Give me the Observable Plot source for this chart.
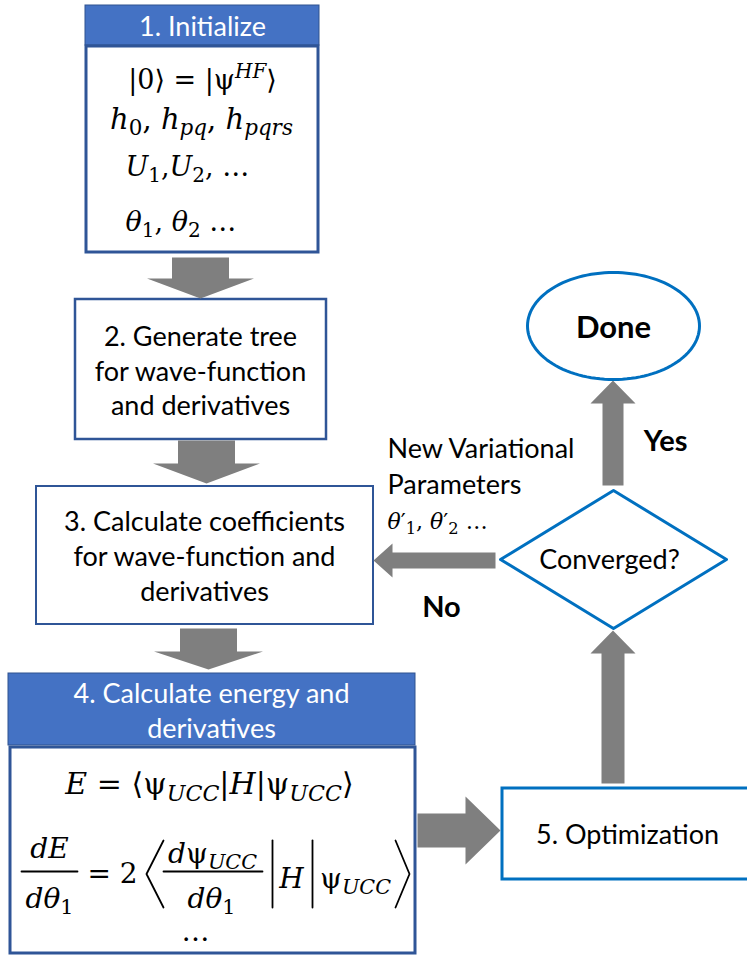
<!DOCTYPE html>
<html>
<head>
<meta charset="utf-8">
<script src="https://cdn.jsdelivr.net/npm/d3@7"></script>
<script src="https://cdn.jsdelivr.net/npm/@observablehq/plot@0.6"></script>
<style>
  html, body { margin: 0; padding: 0; background: white; }
</style>
</head>
<body>
<div id="chart"></div>
<script>
// ---------- content ----------
const stepTitles = [
  ["1. Initialize"],
  ["2. Generate tree", "for wave-function", "and derivatives"],
  ["3. Calculate coefficients", "for wave-function and", "derivatives"],
  ["4. Calculate energy and", "derivatives"],
  ["5. Optimization"]
];
const initItems = ["|0⟩ = |ψ^{HF}⟩", "h_{0}, h_{pq}, h_{pqrs}", "U_{1},U_{2}, …", "θ_{1}, θ_{2} …"];
const energyItems = ["E = ⟨ψ_{UCC}|H|ψ_{UCC}⟩", "dE", "dθ_{1}", "= 2", "dψ_{UCC}", "dθ_{1}", "H", "ψ_{UCC}", "…"];
const decisionLabel = "Converged?";
const endLabel = "Done";
const branchLabels = ["Yes", "No"];
const feedbackLines = ["New Variational", "Parameters"];
const feedbackMath = "θ′_{1}, θ′_{2} …";

// ---------- layout (diagram geometry) ----------
const HEAD = "#4472C4", DARK = "#2F5597", BRIGHT = "#0070C0", GREY = "#7F7F7F";
const MATHFONT = "DejaVu Serif";
const boxLayout = [
  {x1: 85, x2: 319, y1: 5, y2: 45, fill: HEAD, stroke: "#2F528F", sw: 1},
  {x1: 86, x2: 318, y1: 46, y2: 252, fill: "white", stroke: DARK, sw: 3},
  {x1: 75, x2: 326, y1: 299, y2: 439, fill: "white", stroke: DARK, sw: 2.5},
  {x1: 36, x2: 373, y1: 486, y2: 624, fill: "white", stroke: DARK, sw: 2},
  {x1: 8, x2: 415, y1: 673, y2: 745, fill: HEAD, stroke: "#2F528F", sw: 1},
  {x1: 10, x2: 415, y1: 747, y2: 953, fill: "white", stroke: DARK, sw: 3},
  {x1: 502, x2: 752, y1: 788, y2: 879, fill: "white", stroke: BRIGHT, sw: 3}
];
const arrowLayout = [
  {from: [200, 257], to: [200, 298], shaft: 57, head: 107, headLen: 20},
  {from: [206, 440], to: [206, 483], shaft: 57, head: 107, headLen: 20},
  {from: [208, 628], to: [208, 669], shaft: 57, head: 109, headLen: 18},
  {from: [417, 830], to: [500, 830], shaft: 34, head: 68, headLen: 35},
  {from: [612.5, 783], to: [612.5, 630], shaft: 23, head: 45, headLen: 23},
  {from: [612.5, 485], to: [612.5, 380], shaft: 21, head: 45, headLen: 23},
  {from: [495, 560], to: [373, 560], shaft: 16, head: 34, headLen: 19}
];
const diamondLayout = {cx: 613, cy: 559, rx: 113, ry: 69};
const ellipseLayout = {cx: 613, cy: 325.5, rx: 86, ry: 53.5};

const sansText = [
  {t: stepTitles[0][0], x: 202, y: 35, fill: "white"},
  {t: stepTitles[1][0], x: 200, y: 345}, {t: stepTitles[1][1], x: 200, y: 380}, {t: stepTitles[1][2], x: 200, y: 414},
  {t: stepTitles[2][0], x: 204, y: 530}, {t: stepTitles[2][1], x: 204, y: 565}, {t: stepTitles[2][2], x: 204, y: 600},
  {t: stepTitles[3][0], x: 211, y: 702, fill: "white"}, {t: stepTitles[3][1], x: 211, y: 737, fill: "white"},
  {t: stepTitles[4][0], x: 627, y: 843},
  {t: decisionLabel, x: 609, y: 568},
  {t: feedbackLines[0], x: 387, y: 457, anchor: "start"},
  {t: feedbackLines[1], x: 387, y: 493, anchor: "start"}
];
const boldText = [
  {t: endLabel, x: 613, y: 337, size: 31},
  {t: branchLabels[0], x: 665, y: 450, size: 29},
  {t: branchLabels[1], x: 441, y: 616, size: 29}
];
const mathText = [
  {t: initItems[0], x: 202, y: 88, anchor: "middle", size: 27},
  {t: initItems[1], x: 201, y: 128, anchor: "middle", size: 29},
  {t: initItems[2], x: 125, y: 175, anchor: "start", size: 27},
  {t: initItems[3], x: 125, y: 230, anchor: "start", size: 27},
  {t: feedbackMath, x: 387, y: 528, anchor: "start", size: 22},
  {t: energyItems[0], x: 209, y: 793, anchor: "middle", size: 30},
  {t: energyItems[1], x: 49, y: 857, anchor: "middle", size: 28},
  {t: energyItems[2], x: 49, y: 907, anchor: "middle", size: 28},
  {t: energyItems[3], x: 112, y: 882, anchor: "middle", size: 28},
  {t: energyItems[4], x: 212, y: 862, anchor: "middle", size: 28},
  {t: energyItems[5], x: 211, y: 907, anchor: "middle", size: 28},
  {t: energyItems[6], x: 291, y: 887, anchor: "middle", size: 28},
  {t: energyItems[7], x: 355, y: 887, anchor: "middle", size: 28},
  {t: energyItems[8], x: 195, y: 940, anchor: "middle", size: 28}
];
const mathStrokes = [
  [[21, 871], [77, 871]],
  [[163, 871], [262, 871]],
  [[163, 840], [146, 873.5], [163, 907]],
  [[272, 840], [272, 907]],
  [[312, 840], [312, 907]],
  [[395, 840], [409, 873.5], [395, 907]]
];

// ---------- derived geometry ----------
function arrowPolygon(a, i) {
  const [x0, y0] = a.from, [x1, y1] = a.to;
  const L = Math.hypot(x1 - x0, y1 - y0);
  const dx = (x1 - x0) / L, dy = (y1 - y0) / L, nx = -dy, ny = dx;
  const kx = x1 - dx * a.headLen, ky = y1 - dy * a.headLen;
  const s = a.shaft / 2, h = a.head / 2;
  return [
    [x0 + nx * s, y0 + ny * s], [kx + nx * s, ky + ny * s], [kx + nx * h, ky + ny * h],
    [x1, y1],
    [kx - nx * h, ky - ny * h], [kx - nx * s, ky - ny * s], [x0 - nx * s, y0 - ny * s]
  ].map(([x, y]) => ({id: i, x, y}));
}
const arrowPts = arrowLayout.flatMap(arrowPolygon);
const d = diamondLayout;
const diamondPts = [[d.cx, d.cy - d.ry], [d.cx + d.rx, d.cy], [d.cx, d.cy + d.ry], [d.cx - d.rx, d.cy]].map(([x, y]) => ({x, y}));
const e = ellipseLayout;
const ellipsePts = d3.range(120).map(k => {
  const a = (k / 120) * 2 * Math.PI;
  return {x: e.cx + e.rx * Math.cos(a), y: e.cy + e.ry * Math.sin(a)};
});
const strokePts = mathStrokes.flatMap((s, i) => s.map(([x, y]) => ({id: i, x, y})));
const mathSizes = Array.from(new Set(mathText.map(m => m.size)));
const boldSizes = Array.from(new Set(boldText.map(m => m.size)));

const chart = Plot.plot({
  width: 747, height: 955, margin: 0,
  x: {domain: [0, 747], range: [0, 747], axis: null},
  y: {domain: [0, 955], range: [0, 955], axis: null},
  style: {background: "white", fontFamily: "Lato", overflow: "hidden"},
  marks: [
    ...boxLayout.map(b => Plot.rect([b], {x1: "x1", x2: "x2", y1: "y1", y2: "y2", fill: b.fill, stroke: b.stroke, strokeWidth: b.sw})),
    Plot.line(arrowPts, {x: "x", y: "y", z: "id", fill: GREY, stroke: "none", curve: "linear-closed"}),
    Plot.line(diamondPts, {x: "x", y: "y", fill: "white", stroke: BRIGHT, strokeWidth: 3, curve: "linear-closed"}),
    Plot.line(ellipsePts, {x: "x", y: "y", fill: "white", stroke: BRIGHT, strokeWidth: 3, curve: "linear-closed"}),
    Plot.text(sansText, {x: "x", y: "y", text: "t", fill: t => t.fill || "black", textAnchor: "middle", lineAnchor: "bottom", fontSize: 27, fontFamily: "Lato"}),
    ...boldSizes.map(sz => Plot.text(boldText.filter(m => m.size === sz), {x: "x", y: "y", text: "t", fill: "black", lineAnchor: "bottom", fontSize: sz, fontWeight: "bold", fontFamily: "Lato"})),
    ...mathSizes.map(sz => Plot.text(mathText.filter(m => m.size === sz), {x: "x", y: "y", text: "t", fill: "black", textAnchor: "middle", lineAnchor: "bottom", fontSize: sz, fontFamily: MATHFONT})),
    Plot.line(strokePts, {x: "x", y: "y", z: "id", stroke: "black", strokeWidth: 1.8})
  ]
});
document.getElementById("chart").appendChild(chart);

const svg = d3.select(chart);
svg.selectAll(`g[font-family="${MATHFONT}"]`).each(function () {
  const fs = parseFloat(this.getAttribute("font-size"));
  d3.select(this).selectAll("text").each(function () {
    const src = this.textContent;
    const item = mathText.find(m => m.t === src && m.size === fs);
    if (item && item.anchor === "start") this.setAttribute("text-anchor", "start");
    renderMath(this, fs);
  });
});
svg.selectAll('g[font-family="Lato"] text').each(function () {
  const item = sansText.find(m => m.t === this.textContent);
  if (item && item.anchor === "start") this.setAttribute("text-anchor", "start");
});

function renderMath(el, fs) {
  const src = el.textContent;
  const segs = [];
  let i = 0, buf = "";
  while (i < src.length) {
    const c = src[i];
    if (c === "_" || c === "^") {
      if (buf) segs.push({t: buf, m: 0});
      buf = "";
      let arg;
      if (src[i + 1] === "{") { const j = src.indexOf("}", i + 2); arg = src.slice(i + 2, j); i = j + 1; }
      else { arg = src[i + 1]; i += 2; }
      segs.push({t: arg, m: c === "_" ? 1 : -1});
    } else { buf += c; i++; }
  }
  if (buf) segs.push({t: buf, m: 0});
  el.textContent = "";
  let cur = 0;
  for (const s of segs) {
    const runs = s.t.match(/[A-Za-zθ]+|[^A-Za-zθ]+/g) || [];
    const off = s.m === 1 ? 0.24 * fs : s.m === -1 ? -0.4 * fs : 0;
    for (const r of runs) {
      const ts = document.createElementNS("http://www.w3.org/2000/svg", "tspan");
      ts.textContent = r;
      if (off !== cur) { ts.setAttribute("dy", off - cur); cur = off; }
      if (s.m) ts.setAttribute("font-size", 0.74 * fs);
      if (/[A-Za-zθ]/.test(r)) ts.setAttribute("font-style", "italic");
      el.appendChild(ts);
    }
  }
}
</script>
</body>
</html>
